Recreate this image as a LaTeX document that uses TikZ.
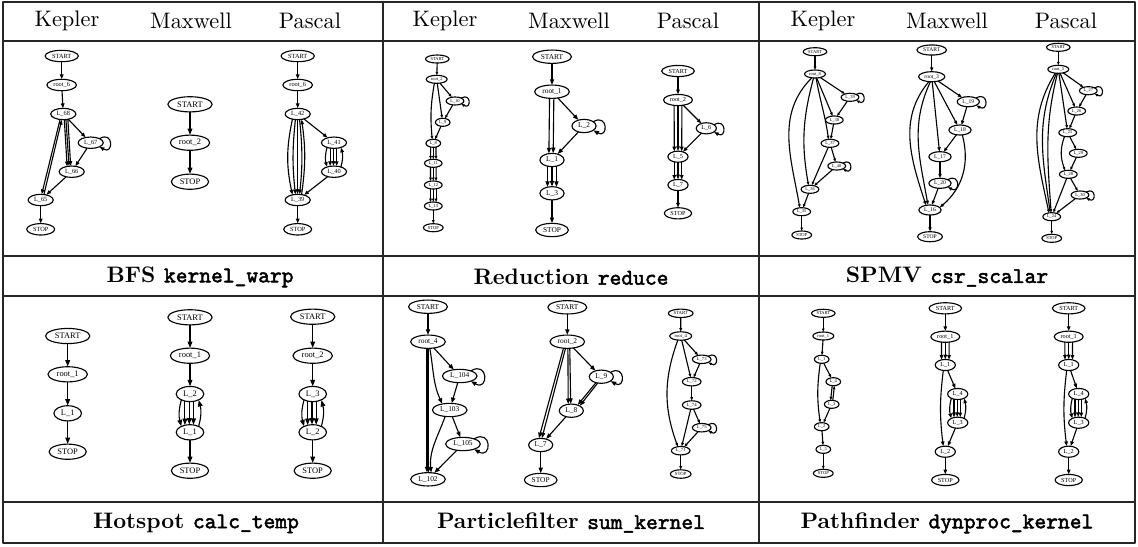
\documentclass[tikz,border=0pt]{standalone}
\usepackage{fontspec}
\setmonofont{lmmono10-regular.otf}[BoldFont=lmmono10-regular.otf,BoldFeatures={FakeBold=2.2}]
\newfontfamily\gvfont{Liberation Serif}
\usetikzlibrary{arrows.meta,shapes.geometric}
\tikzset{
  gnode/.style={draw,ellipse,line width=.5pt,inner xsep=3.5pt,inner ysep=0pt,
    minimum height=18pt,font=\gvfont\fontsize{10}{11}\selectfont},
  cfg/.style={every node/.append style={gnode,scale=#1},
    >={Triangle[length=7.5pt,width=5.6pt,scale=#1]},line width=.5pt},
  selfloop/.style={out=30,in=-30,looseness=5},
  tabrule/.style={line width=.6pt,black!85},
}
% three parallel edges
\newcommand{\tripleedge}[2]{\foreach \p/\q in {235/125,270/90,305/55} \draw[->] (#1.\p) -- (#2.\q);}
% four edges down, one edge back up
\newcommand{\backbundle}[2]{
  \draw[->] (#1.215) to[out=255,in=105] (#2.145);
  \foreach \p/\q in {235/125,265/95,295/65} \draw[->] (#1.\p) -- (#2.\q);
  \draw[->] (#2.35) to[out=75,in=-75] (#1.325);}

\begin{document}
\begin{tikzpicture}[x=.446pt,y=.446pt,line cap=round,line join=round]
 \useasboundingbox (0,0) rectangle (1138,-546);
 % Ramka tabeli.
 \draw[tabrule] (3,-2) rectangle (1135,-543);
 \draw[tabrule] (383,-2) -- (383,-543);
 \draw[tabrule] (759,-2) -- (759,-543);
 \draw[tabrule] (3,-41) -- (1135,-41);
 \foreach \y in {256,296,502}
  \draw[tabrule] (3,-\y) -- (1135,-\y);
 % Nagłówki i podpisy.
 \foreach \c/\o in {1/0,2/378,3/756} {
  \node (hk\c) at (\o+67,-21) {Kepler};
  \node (hm\c) at (\o+191,-21) {Maxwell};
  \node (hp\c) at (\o+310,-21) {Pascal};
 }
 \node (cap1) at (200,-277) {\textbf{BFS \texttt{kernel\_warp}}};
 \node (cap2) at (571,-277) {\textbf{Reduction \texttt{reduce}}};
 \node (cap3) at (947,-277) {\textbf{SPMV \texttt{csr\_scalar}}};
 \node (cap4) at (196,-523) {\textbf{Hotspot \texttt{calc\_temp}}};
 \node (cap5) at (571,-523) {\textbf{Particlefilter \texttt{sum\_kernel}}};
 \node (cap6) at (947,-523) {\textbf{Pathfinder \texttt{dynproc\_kernel}}};

 % BFS, Kepler.
 \begin{scope}[cfg=.282]
  \node (bk-s) at (61.7,-56) {START};
  \node (bk-r) at (61.7,-85) {root\_6};
  \node (bk-68) at (63.3,-114) {L\_68};
  \node (bk-67) at (90.7,-142.7) {L\_67};
  \node (bk-66) at (71.7,-171.7) {L\_66};
  \node (bk-65) at (40.7,-200) {L\_65};
  \node (bk-t) at (40.7,-229.3) {STOP};
  \draw[->] (bk-s) -- (bk-r);
  \draw[->] (bk-r) -- (bk-68);
  \draw[->] (bk-68) -- (bk-67);
  \draw[->] (bk-67.25) to[selfloop] (bk-67.-25);
  \draw[->] (bk-67) -- (bk-66);
  \foreach \p/\q in {280/130,295/115,310/100} \draw[->] (bk-68.\p) -- (bk-66.\q);
  \draw[->] (bk-68.240) -- (bk-65.80);
  \draw[->] (bk-65.60) -- (bk-68.255);
  \draw[->] (bk-66) -- (bk-65);
  \draw[->] (bk-65) -- (bk-t);
 \end{scope}
 % BFS, Maxwell.
 \begin{scope}[cfg=.376]
  \node (bm-s) at (190,-104.3) {START};
  \node (bm-r) at (190,-142.7) {root\_2};
  \node (bm-t) at (190,-181.7) {STOP};
  \draw[->] (bm-s) -- (bm-r);
  \draw[->] (bm-r) -- (bm-t);
 \end{scope}
 % BFS, Pascal.
 \begin{scope}[cfg=.282]
  \node (bp-s) at (297.7,-56) {START};
  \node (bp-r) at (297.7,-85) {root\_6};
  \node (bp-42) at (297.7,-114) {L\_42};
  \node (bp-41) at (334,-142.7) {L\_41};
  \node (bp-40) at (334,-171.7) {L\_40};
  \node (bp-39) at (297.7,-200) {L\_39};
  \node (bp-t) at (297.7,-229.3) {STOP};
  \draw[->] (bp-s) -- (bp-r);
  \draw[->] (bp-r) -- (bp-42);
  \draw[->] (bp-42) -- (bp-41);
  \backbundle{bp-41}{bp-40}
  \draw[->] (bp-40) -- (bp-39);
  \draw[->] (bp-42.225) to[out=258,in=102] (bp-39.135);
  \draw[->] (bp-42.248) to[out=264,in=96] (bp-39.112);
  \draw[->] (bp-42.268) -- (bp-39.92);
  \draw[->] (bp-42.288) to[out=276,in=84] (bp-39.72);
  \draw[->] (bp-39.55) to[out=82,in=-82] (bp-42.305);
  \draw[->] (bp-39) -- (bp-t);
 \end{scope}

 % Reduction, Kepler.
 \begin{scope}[cfg=.2]
  \node (rk-s) at (437.3,-59) {START};
  \node (rk-r) at (436.7,-79.3) {root\_2};
  \node (rk-10) at (455,-101) {L\_10};
  \node (rk-9) at (442.7,-122.3) {L\_9};
  \node (rk-8) at (433.3,-143.3) {L\_8};
  \node (rk-11) at (433.3,-163.3) {L\_11};
  \node (rk-12) at (433.3,-185) {L\_12};
  \node (rk-13) at (433.3,-206) {L\_13};
  \node (rk-t) at (433.3,-227.7) {STOP};
  \draw[->] (rk-s) -- (rk-r);
  \draw[->] (rk-r) -- (rk-10);
  \draw[->] (rk-10.25) to[selfloop] (rk-10.-25);
  \draw[->] (rk-10) -- (rk-9);
  \draw[->] (rk-r) -- (rk-9);
  \draw[->] (rk-r.240) to[out=260,in=95] (rk-8.105);
  \draw[->] (rk-9) -- (rk-8);
  \tripleedge{rk-8}{rk-11}
  \tripleedge{rk-11}{rk-12}
  \tripleedge{rk-12}{rk-13}
  \draw[->] (rk-13) -- (rk-t);
 \end{scope}
 % Reduction, Maxwell.
 \begin{scope}[cfg=.33]
  \node (rm-s) at (552,-56.7) {START};
  \node (rm-r) at (552,-91.7) {root\_1};
  \node (rm-2) at (584,-126) {L\_2};
  \node (rm-1) at (552,-160) {L\_1};
  \node (rm-3) at (552,-193.3) {L\_3};
  \node (rm-t) at (552,-230) {STOP};
  \draw[->] (rm-s) -- (rm-r);
  \draw[->] (rm-r) -- (rm-2);
  \draw[->] (rm-2.25) to[selfloop] (rm-2.-25);
  \draw[->] (rm-2) -- (rm-1);
  \draw[->] (rm-r.250) -- (rm-1.115);
  \draw[->] (rm-r.285) -- (rm-1.80);
  \tripleedge{rm-1}{rm-3}
  \draw[->] (rm-3) -- (rm-t);
 \end{scope}
 % Reduction, Pascal.
 \begin{scope}[cfg=.276]
  \node (rp-s) at (678,-71) {START};
  \node (rp-r) at (678,-100) {root\_2};
  \node (rp-6) at (706.3,-128.3) {L\_6};
  \node (rp-5) at (678,-156.7) {L\_5};
  \node (rp-7) at (678,-185) {L\_7};
  \node (rp-t) at (678,-213.3) {STOP};
  \draw[->] (rp-s) -- (rp-r);
  \draw[->] (rp-r) -- (rp-6);
  \draw[->] (rp-6.25) to[selfloop] (rp-6.-25);
  \draw[->] (rp-6) -- (rp-5);
  \tripleedge{rp-r}{rp-5}
  \tripleedge{rp-5}{rp-7}
  \draw[->] (rp-7) -- (rp-t);
 \end{scope}

 % SPMV, Kepler.
 \begin{scope}[cfg=.2]
  \node (sk-s) at (815,-51.7) {START};
  \node (sk-r) at (815,-74) {root\_8};
  \node (sk-39) at (850,-97.3) {L\_39};
  \node (sk-38) at (834.3,-120) {L\_38};
  \node (sk-37) at (830,-143.3) {L\_37};
  \node (sk-40) at (836.7,-166) {L\_40};
  \node (sk-36) at (810,-189.3) {L\_36};
  \node (sk-35) at (801.7,-211.7) {L\_35};
  \node (sk-t) at (801.7,-235) {STOP};
  \draw[->] (sk-s) -- (sk-r);
  \draw[->] (sk-r) -- (sk-39);
  \draw[->] (sk-39.25) to[selfloop] (sk-39.-25);
  \draw[->] (sk-39) -- (sk-38);
  \draw[->] (sk-r) -- (sk-38);
  \draw[->] (sk-r.285) to[out=280,in=98] (sk-37.110);
  \draw[->] (sk-38) -- (sk-37);
  \draw[->] (sk-37) -- (sk-40);
  \draw[->] (sk-40.25) to[selfloop] (sk-40.-25);
  \draw[->] (sk-40) -- (sk-36);
  \draw[->] (sk-37) -- (sk-36);
  \draw[->] (sk-r.250) to[out=255,in=100] (sk-36.110);
  \draw[->] (sk-r.230) to[out=225,in=100] (sk-35.115);
  \draw[->] (sk-36) -- (sk-35);
  \draw[->] (sk-35) -- (sk-t);
 \end{scope}
 % SPMV, Maxwell.
 \begin{scope}[cfg=.25]
  \node (sm-s) at (931.7,-50) {START};
  \node (sm-r) at (931.7,-76.7) {root\_3};
  \node (sm-19) at (968.3,-101.7) {L\_19};
  \node (sm-18) at (960,-130) {L\_18};
  \node (sm-17) at (940,-156.7) {L\_17};
  \node (sm-20) at (940,-183.3) {L\_20};
  \node (sm-16) at (930,-210) {L\_16};
  \node (sm-t) at (930,-236.7) {STOP};
  \draw[->] (sm-s) -- (sm-r);
  \draw[->] (sm-r) -- (sm-19);
  \draw[->] (sm-19.25) to[selfloop] (sm-19.-25);
  \draw[->] (sm-19) -- (sm-18);
  \draw[->] (sm-r) -- (sm-18);
  \draw[->] (sm-r) -- (sm-17);
  \draw[->] (sm-18) -- (sm-17);
  \draw[->] (sm-17) -- (sm-20);
  \draw[->] (sm-20.25) to[selfloop] (sm-20.-25);
  \draw[->] (sm-20) -- (sm-16);
  \draw[->] (sm-18.295) to[out=285,in=40] (sm-16.15);
  \draw[->] (sm-r.240) to[out=230,in=108] (sm-16.130);
  \draw[->] (sm-r.255) to[out=245,in=100] (sm-16.112);
  \draw[->] (sm-16) -- (sm-t);
 \end{scope}
 % SPMV, Pascal.
 \begin{scope}[cfg=.2]
  \node (sp-s) at (1058.3,-47.3) {START};
  \node (sp-r) at (1058.3,-69.3) {root\_5};
  \node (sp-27) at (1088.3,-90.7) {L\_27};
  \node (sp-26) at (1076.7,-111) {L\_26};
  \node (sp-25) at (1067.7,-132.7) {L\_25};
  \node (sp-29) at (1078.3,-153.3) {L\_29};
  \node (sp-28) at (1068.3,-174.3) {L\_28};
  \node (sp-30) at (1080,-195) {L\_30};
  \node (sp-24) at (1051.7,-216.7) {L\_24};
  \node (sp-t) at (1051.7,-238.3) {STOP};
  \draw[->] (sp-s) -- (sp-r);
  \draw[->] (sp-r) -- (sp-27);
  \draw[->] (sp-27.25) to[selfloop] (sp-27.-25);
  \draw[->] (sp-27) -- (sp-26);
  \draw[->] (sp-r) -- (sp-26);
  \draw[->] (sp-r) -- (sp-25);
  \draw[->] (sp-26) -- (sp-25);
  \draw[->] (sp-25) -- (sp-29);
  \draw[->] (sp-25.230) to[out=250,in=110] (sp-28.130);
  \draw[->] (sp-29) -- (sp-28);
  \draw[->] (sp-28) -- (sp-30);
  \draw[->] (sp-30.25) to[selfloop] (sp-30.-25);
  \draw[->] (sp-30) -- (sp-24);
  \draw[->] (sp-28) -- (sp-24);
  \foreach \p/\o/\i/\q in {232/238/102/125,245/247/98/110,258/256/94/98}
   \draw[->] (sp-r.\p) to[out=\o,in=\i] (sp-24.\q);
  \draw[->] (sp-24) -- (sp-t);
 \end{scope}

 % Hotspot, Kepler.
 \begin{scope}[cfg=.376]
  \node (hk-s) at (67.7,-336) {START};
  \node (hk-r) at (67.7,-374.3) {root\_1};
  \node (hk-1) at (67.7,-413.3) {L\_1};
  \node (hk-t) at (67.7,-451.7) {STOP};
  \draw[->] (hk-s) -- (hk-r);
  \draw[->] (hk-r) -- (hk-1);
  \draw[->] (hk-1) -- (hk-t);
 \end{scope}
 % Hotspot, Maxwell.
 \begin{scope}[cfg=.376]
  \node (hm-s) at (190,-317.3) {START};
  \node (hm-r) at (190,-355.7) {root\_1};
  \node (hm-2) at (190,-394) {L\_2};
  \node (hm-1) at (190,-432.3) {L\_1};
  \node (hm-t) at (190,-470.7) {STOP};
  \draw[->] (hm-s) -- (hm-r);
  \draw[->] (hm-r) -- (hm-2);
  \backbundle{hm-2}{hm-1}
  \draw[->] (hm-1) -- (hm-t);
 \end{scope}
 % Hotspot, Pascal.
 \begin{scope}[cfg=.376]
  \node (hp-s) at (312.7,-316.7) {START};
  \node (hp-r) at (312.7,-355.7) {root\_2};
  \node (hp-3) at (312.7,-394) {L\_3};
  \node (hp-2) at (312.7,-432.3) {L\_2};
  \node (hp-t) at (312.7,-470.7) {STOP};
  \draw[->] (hp-s) -- (hp-r);
  \draw[->] (hp-r) -- (hp-3);
  \backbundle{hp-3}{hp-2}
  \draw[->] (hp-2) -- (hp-t);
 \end{scope}

 % Particlefilter, Kepler.
 \begin{scope}[cfg=.33]
  \node (pk-s) at (428,-306.7) {START};
  \node (pk-r) at (428,-341.7) {root\_4};
  \node (pk-104) at (459.7,-376) {L\_104};
  \node (pk-103) at (449.7,-410) {L\_103};
  \node (pk-105) at (463,-444) {L\_105};
  \node (pk-102) at (428,-479.3) {L\_102};
  \draw[->] (pk-s) -- (pk-r);
  \draw[->] (pk-r) -- (pk-104);
  \draw[->] (pk-104.25) to[selfloop] (pk-104.-25);
  \draw[->] (pk-104) -- (pk-103);
  \draw[->] (pk-r.285) to[out=280,in=115] (pk-103.140);
  \draw[->] (pk-103) -- (pk-105);
  \draw[->] (pk-105.25) to[selfloop] (pk-105.-25);
  \draw[->] (pk-105) -- (pk-102);
  \draw[->] (pk-103.235) to[out=250,in=95] (pk-102.65);
  \draw[->] (pk-r.262) -- (pk-102.98);
  \draw[->] (pk-r.274) -- (pk-102.86);
 \end{scope}
 % Particlefilter, Maxwell.
 \begin{scope}[cfg=.33]
  \node (pm-s) at (567.3,-307.3) {START};
  \node (pm-r) at (567.3,-341.7) {root\_2};
  \node (pm-9) at (601.3,-376.7) {L\_9};
  \node (pm-8) at (571.3,-410.7) {L\_8};
  \node (pm-7) at (540.7,-445) {L\_7};
  \node (pm-t) at (540.7,-480) {STOP};
  \draw[->] (pm-s) -- (pm-r);
  \draw[->] (pm-r) -- (pm-9);
  \draw[->] (pm-9.25) to[selfloop] (pm-9.-25);
  \draw[->] (pm-9.228) -- (pm-8.42);
  \draw[->] (pm-9.240) -- (pm-8.30);
  \draw[->] (pm-r.275) -- (pm-8.115);
  \draw[->] (pm-r.290) -- (pm-8.95);
  \draw[->] (pm-r.240) -- (pm-7.105);
  \draw[->] (pm-r.255) -- (pm-7.80);
  \draw[->] (pm-8) -- (pm-7);
  \draw[->] (pm-7) -- (pm-t);
 \end{scope}
 % Particlefilter, Pascal.
 \begin{scope}[cfg=.21]
  \node (pp-s) at (680.7,-313.3) {START};
  \node (pp-r) at (680.7,-336) {root\_4};
  \node (pp-73) at (701.7,-359.3) {L\_73};
  \node (pp-72) at (691.7,-381.7) {L\_72};
  \node (pp-74) at (691.7,-405) {L\_74};
  \node (pp-75) at (701.7,-427.7) {L\_75};
  \node (pp-71) at (680.7,-450.7) {L\_71};
  \node (pp-t) at (680.7,-474) {STOP};
  \draw[->] (pp-s) -- (pp-r);
  \draw[->] (pp-r) -- (pp-73);
  \draw[->] (pp-73.25) to[selfloop] (pp-73.-25);
  \draw[->] (pp-73) -- (pp-72);
  \draw[->] (pp-r) -- (pp-72);
  \draw[->] (pp-72) -- (pp-74);
  \draw[->] (pp-74) -- (pp-75);
  \draw[->] (pp-75.25) to[selfloop] (pp-75.-25);
  \draw[->] (pp-75) -- (pp-71);
  \draw[->] (pp-74) -- (pp-71);
  \draw[->] (pp-r.235) to[out=250,in=110] (pp-71.125);
  \draw[->] (pp-71) -- (pp-t);
 \end{scope}

 % Pathfinder, Kepler.
 \begin{scope}[cfg=.2]
  \node (fk-s) at (823.3,-313.3) {START};
  \node (fk-r) at (823.3,-336) {root\_1};
  \node (fk-1) at (821.7,-359.3) {L\_1};
  \node (fk-4) at (833.3,-381.7) {L\_4};
  \node (fk-3) at (831.7,-404.3) {L\_3};
  \node (fk-2) at (821.7,-426.7) {L\_2};
  \node (fk-5) at (823.3,-449.3) {L\_5};
  \node (fk-t) at (823.3,-473.3) {STOP};
  \draw[->] (fk-s) -- (fk-r);
  \draw[->] (fk-r) -- (fk-1);
  \draw[->] (fk-1) -- (fk-4);
  \draw[->] (fk-4.255) -- (fk-3.105);
  \draw[->] (fk-3.75) -- (fk-4.285);
  \draw[->] (fk-3) -- (fk-2);
  \draw[->] (fk-1.250) to[out=262,in=98] (fk-2.110);
  \draw[->] (fk-2) -- (fk-5);
  \draw[->] (fk-5) -- (fk-t);
 \end{scope}
 % Pathfinder, Maxwell.
 \begin{scope}[cfg=.276]
  \node (fm-s) at (945.3,-308.3) {START};
  \node (fm-r) at (945.3,-336.7) {root\_1};
  \node (fm-1) at (945.3,-365) {L\_1};
  \node (fm-4) at (957.7,-394) {L\_4};
  \node (fm-3) at (957.7,-422.7) {L\_3};
  \node (fm-2) at (945.3,-451.7) {L\_2};
  \node (fm-t) at (945.3,-480) {STOP};
  \draw[->] (fm-s) -- (fm-r);
  \tripleedge{fm-r}{fm-1}
  \draw[->] (fm-1) -- (fm-4);
  \backbundle{fm-4}{fm-3}
  \draw[->] (fm-3) -- (fm-2);
  \draw[->] (fm-1.250) to[out=263,in=97] (fm-2.110);
  \draw[->] (fm-2) -- (fm-t);
 \end{scope}
 % Pathfinder, Pascal.
 \begin{scope}[cfg=.276]
  \node (fp-s) at (1068.7,-308.3) {START};
  \node (fp-r) at (1068.7,-336.7) {root\_1};
  \node (fp-1) at (1068.7,-365) {L\_1};
  \node (fp-4) at (1078.7,-394) {L\_4};
  \node (fp-3) at (1078.7,-422.7) {L\_3};
  \node (fp-2) at (1068.7,-451.7) {L\_2};
  \node (fp-t) at (1068.7,-480) {STOP};
  \draw[->] (fp-s) -- (fp-r);
  \tripleedge{fp-r}{fp-1}
  \draw[->] (fp-1) -- (fp-4);
  \backbundle{fp-4}{fp-3}
  \draw[->] (fp-3) -- (fp-2);
  \draw[->] (fp-1.250) to[out=263,in=97] (fp-2.110);
  \draw[->] (fp-2) -- (fp-t);
 \end{scope}
\end{tikzpicture}
\end{document}
